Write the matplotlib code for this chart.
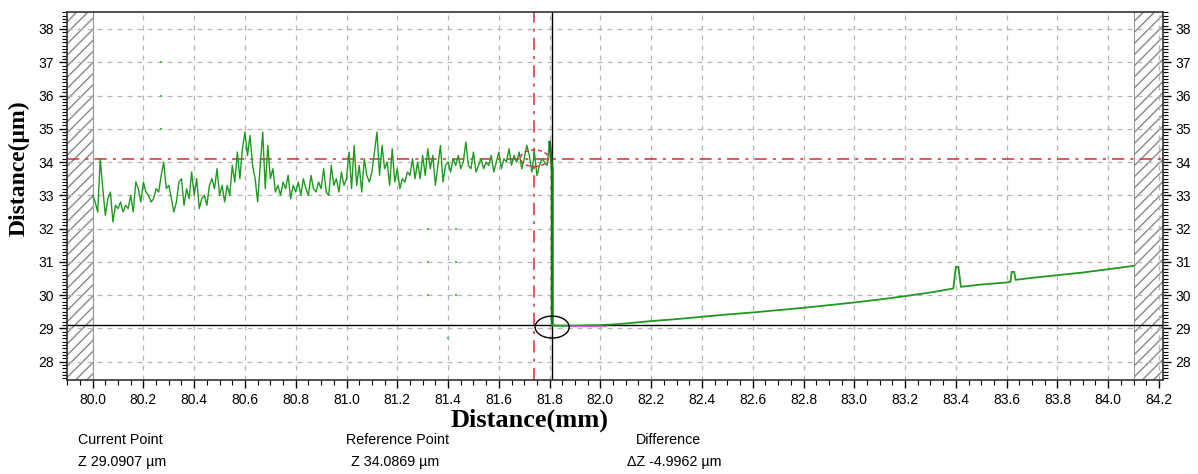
import numpy as np
import matplotlib
matplotlib.use("Agg")
import matplotlib.pyplot as plt
from matplotlib.patches import Ellipse
from matplotlib.ticker import MultipleLocator

# rough profile, sampled every 0.01 mm from 80.00 to 81.80
rough_start = 80.00
rough_step = 0.01
rough_z = [
    33.0, 32.8, 32.5, 34.1, 33.2, 32.4, 32.9, 33.1, 32.2, 32.7,
    32.6, 32.8, 32.5, 32.7, 32.6, 33.0, 32.5, 33.4, 33.2, 32.8,
    33.4, 33.1, 33.0, 32.8, 32.9, 33.2, 33.1, 33.6, 34.0, 33.2,
    33.3, 32.9, 32.5, 32.8, 33.4, 33.5, 32.7, 33.2, 32.9, 33.7,
    33.0, 33.5, 32.6, 32.9, 33.0, 32.7, 33.3, 33.5, 33.2, 33.8,
    33.0, 33.3, 32.8, 33.3, 33.0, 33.9, 33.4, 34.3, 33.5, 34.4,
    34.9, 34.2, 34.8, 33.9, 33.5, 32.8, 33.9, 34.9, 33.2, 34.5,
    33.5, 33.8, 33.1, 33.3, 33.0, 33.4, 33.2, 33.6, 32.9, 33.3,
    33.1, 33.4, 33.0, 33.5, 33.2, 33.0, 33.6, 33.2, 33.1, 33.4,
    33.2, 33.8, 33.1, 33.0, 33.9, 33.3, 33.5, 33.1, 33.7, 33.3,
    33.5, 34.3, 33.2, 34.5, 33.3, 33.9, 33.1, 34.1, 33.6, 33.4,
    33.7, 34.3, 34.9, 33.6, 34.5, 33.8, 34.0, 33.3, 34.4, 33.4,
    33.8, 33.2, 33.5, 33.4, 33.7, 33.6, 34.1, 33.5, 34.0, 33.5,
    34.2, 33.6, 34.4, 33.8, 34.2, 33.3, 33.9, 34.5, 33.4, 33.9,
    34.0, 33.7, 34.1, 33.9, 34.2, 33.8, 34.0, 34.6, 33.9, 33.8,
    34.3, 33.7, 33.9, 34.1, 33.8, 34.0, 33.9, 34.2, 33.7, 34.0,
    34.3, 33.8, 34.1, 34.0, 34.4, 33.9, 34.2, 34.0, 34.3, 33.8,
    34.1, 34.5, 34.2, 33.7, 34.3, 33.6, 33.9, 34.1, 34.0, 33.9,
    34.6,
]

# step down edge
step_x = [81.80, 81.81, 81.81]
step_z = [34.6, 33.8, 29.1]

# smooth profile after the step
smooth_x = [81.81, 81.83, 81.85, 81.90, 82.00, 82.05, 82.10, 82.20, 82.30, 82.40,
            82.50, 82.60, 82.70, 82.80, 82.90, 83.00, 83.10, 83.20, 83.30, 83.39,
            83.40, 83.41, 83.42, 83.50, 83.60, 83.615, 83.62, 83.63, 83.635, 83.70,
            83.80, 83.90, 84.00, 84.10]
smooth_z = [29.1, 29.08, 29.08, 29.08, 29.1, 29.12, 29.15, 29.22, 29.28, 29.35,
            29.42, 29.48, 29.55, 29.62, 29.70, 29.78, 29.87, 29.97, 30.08, 30.20,
            30.85, 30.85, 30.25, 30.32, 30.38, 30.40, 30.70, 30.70, 30.46, 30.52,
            30.60, 30.68, 30.78, 30.88]

# faint stray points
stray_x = [80.27, 80.27, 80.27, 81.32, 81.32, 81.32, 81.43, 81.43, 81.43, 81.40]
stray_z = [37.0, 36.0, 35.0, 32.0, 31.0, 30.0, 32.0, 31.0, 30.0, 28.7]

# cursors
ref_x, ref_z = 81.74, 34.0869
cur_x, cur_z = 81.81, 29.0907

readouts = [("Current Point", "Z 29.0907 µm"),
            ("Reference Point", "Z 34.0869 µm"),
            ("Difference", "\u0394Z -4.9962 µm")]

rough_x = rough_start + rough_step * np.arange(len(rough_z))

fig = plt.figure(figsize=(11.98, 4.74), dpi=100)
ax = fig.add_axes([0.0557, 0.1983, 0.9151, 0.7764])

xmin, xmax = 79.898, 84.216
ymin, ymax = 27.45, 38.51

# hatched dead zones
ax.axvspan(xmin, 80.0, facecolor="none", edgecolor="#888888", hatch="///", linewidth=0)
ax.axvspan(84.1, xmax, facecolor="none", edgecolor="#888888", hatch="///", linewidth=0)
ax.axvline(80.0, color="#999999", lw=0.8)
ax.axvline(84.1, color="#999999", lw=0.8)

ax.grid(True, which="major", color="#b5b5b5", linestyle=(0, (4, 4)), linewidth=0.9)

ax.plot(rough_x, rough_z, color="#1f9a1f", lw=1.0, zorder=3)
ax.plot(step_x, step_z, color="#137a13", lw=2.0, zorder=3)
ax.plot(smooth_x, smooth_z, color="#1f9a1f", lw=1.3, zorder=3)
ax.plot([81.88, 82.02], [29.07, 29.07], color="#cc66cc", lw=1.0, zorder=3)
ax.scatter(stray_x, stray_z, s=1.2, marker="s", linewidths=0, color="#55bb55", zorder=3)

# reference cursor (red dash-dot) and current cursor (black)
ax.axhline(ref_z, color="#d42a3a", lw=1.1, linestyle=(0, (8, 4, 2, 4)), zorder=2)
ax.axvline(ref_x, color="#d42a3a", lw=1.1, linestyle=(0, (8, 4, 2, 4)), zorder=2)
ax.axhline(cur_z, color="black", lw=1.0, zorder=2)
ax.axvline(cur_x, color="black", lw=1.0, zorder=2)
ax.add_patch(Ellipse((cur_x, cur_z - 0.05), 0.134, 0.66, fill=False, edgecolor="black", lw=1.0, zorder=4))
ax.add_patch(Ellipse((ref_x, ref_z + 0.03), 0.11, 0.5, fill=False, edgecolor="#d42a3a", lw=1.0,
                     linestyle=(0, (3, 2)), zorder=4))

ax.set_xlim(xmin, xmax)
ax.set_ylim(ymin, ymax)
ax.set_xticks(np.round(np.arange(80.0, 84.21, 0.2), 1))
ax.set_xticklabels(["%.1f" % v for v in np.arange(80.0, 84.21, 0.2)])
ax.set_yticks(range(28, 39))
ax.xaxis.set_minor_locator(MultipleLocator(0.05))
ax.yaxis.set_minor_locator(MultipleLocator(0.1))
ax.tick_params(which="major", direction="out", length=6, width=1, labelsize=10,
               left=True, right=True, labelleft=True, labelright=True, pad=3)
ax.tick_params(which="minor", direction="out", length=3.5, width=0.8,
               left=True, right=True)
for lab in ax.get_xticklabels() + ax.get_yticklabels():
    lab.set_fontfamily("Liberation Sans")
for lab in ax.yaxis.get_ticklabels(which="major"):
    lab.set_fontfamily("Liberation Sans")
for s in ax.spines.values():
    s.set_color("#333333")
    s.set_linewidth(1.2)

ax.set_xlabel("Distance(mm)", fontfamily="Liberation Serif", fontweight="bold", fontsize=19)
ax.set_ylabel("Distance(μm)", fontfamily="Liberation Serif", fontweight="bold", fontsize=17)
ax.xaxis.set_label_coords(0.4226, -0.078)
ax.yaxis.set_label_coords(-0.034, 0.576)

for (t, v), tx in zip(readouts, [78, 346, 636]):
    fig.text(tx / 1198, 1 - 440 / 474, t, fontsize=10.3, fontfamily="Liberation Sans", va="center")
for (t, v), vx in zip(readouts, [78, 351, 627]):
    fig.text(vx / 1198, 1 - 462 / 474, v, fontsize=10.3, fontfamily="Liberation Sans", va="center")

fig.savefig("out.png", dpi=100)
